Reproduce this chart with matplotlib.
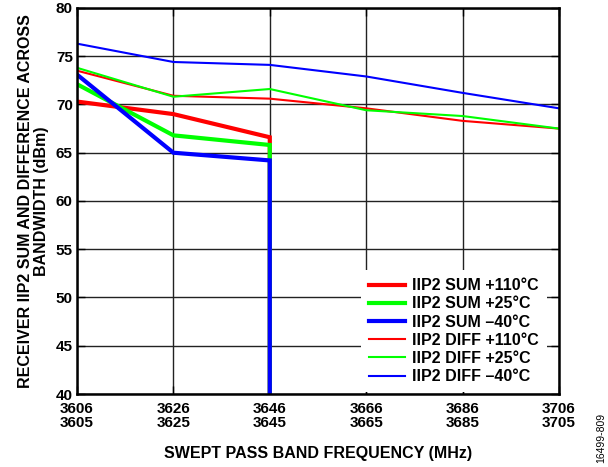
import matplotlib.pyplot as plt
import numpy as np

plt.rcParams['font.family'] = ['Liberation Sans', 'DejaVu Sans']

freq = [3606, 3626, 3646, 3666, 3686, 3706]
tick_labels = ['3606\n3605', '3626\n3625', '3646\n3645', '3666\n3665', '3686\n3685', '3706\n3705']

# SUM curves stop at 3646 and drop off the bottom
sum_freq = [3606, 3626, 3646, 3646]
sum_110 = [70.3, 69.0, 66.6, 40.0]
sum_25 = [72.1, 66.8, 65.8, 40.0]
sum_m40 = [73.1, 65.0, 64.2, 40.0]

diff_110 = [73.5, 70.9, 70.6, 69.6, 68.3, 67.5]
diff_25 = [73.8, 70.8, 71.6, 69.4, 68.8, 67.5]
diff_m40 = [76.3, 74.4, 74.1, 72.9, 71.2, 69.6]

fig = plt.figure(figsize=(6.08, 4.67), dpi=100)
ax = fig.add_axes([0.1266, 0.1563, 0.7928, 0.8267])

ax.plot(sum_freq, sum_110, color='#FF0000', lw=3, label='IIP2 SUM +110°C', solid_joinstyle='miter')
ax.plot(sum_freq, sum_25, color='#00FF00', lw=3, label='IIP2 SUM +25°C', solid_joinstyle='miter')
ax.plot(sum_freq, sum_m40, color='#0000FF', lw=3, label='IIP2 SUM \u201340°C', solid_joinstyle='miter')
ax.plot(freq, diff_110, color='#FF0000', lw=1.5, label='IIP2 DIFF +110°C')
ax.plot(freq, diff_25, color='#00FF00', lw=1.5, label='IIP2 DIFF +25°C')
ax.plot(freq, diff_m40, color='#0000FF', lw=1.5, label='IIP2 DIFF \u201340°C')

ax.set_xlim(3606, 3706)
ax.set_ylim(40, 80)
ax.set_xticks(freq)
ax.set_xticklabels(tick_labels, fontsize=11, fontweight='bold', linespacing=0.95)
ax.set_yticks(np.arange(40, 81, 5))
ax.set_yticklabels([str(v) for v in range(40, 81, 5)], fontsize=11, fontweight='bold')
ax.tick_params(direction='in', length=6, width=1, top=True, right=True, pad=3)
ax.tick_params(axis='x', pad=6)

ax.grid(True, color='#222222', lw=1)
ax.set_axisbelow(True)
for s in ax.spines.values():
    s.set_linewidth(1.8)

ax.set_xlabel('SWEPT PASS BAND FREQUENCY (MHz)', fontsize=11.5, fontweight='bold', labelpad=12)
ax.set_ylabel('RECEIVER IIP2 SUM AND DIFFERENCE ACROSS\nBANDWIDTH (dBm)', fontsize=11.5,
              fontweight='bold', labelpad=5, linespacing=1.1)

leg = ax.legend(loc='lower right', bbox_to_anchor=(0.975, 0.005), fontsize=11.5, frameon=True,
                handlelength=2.25, handletextpad=0.45, labelspacing=0.2, borderaxespad=0,
                borderpad=0.5)
leg.get_frame().set_edgecolor('none')
leg.get_frame().set_facecolor('white')
leg.get_frame().set_alpha(1)
for t in leg.get_texts():
    t.set_fontweight('bold')

fig.text(0.988, 0.063, '16499-809', rotation=90, fontsize=7.5, ha='center', va='center')

fig.savefig('out.png', dpi=100)
